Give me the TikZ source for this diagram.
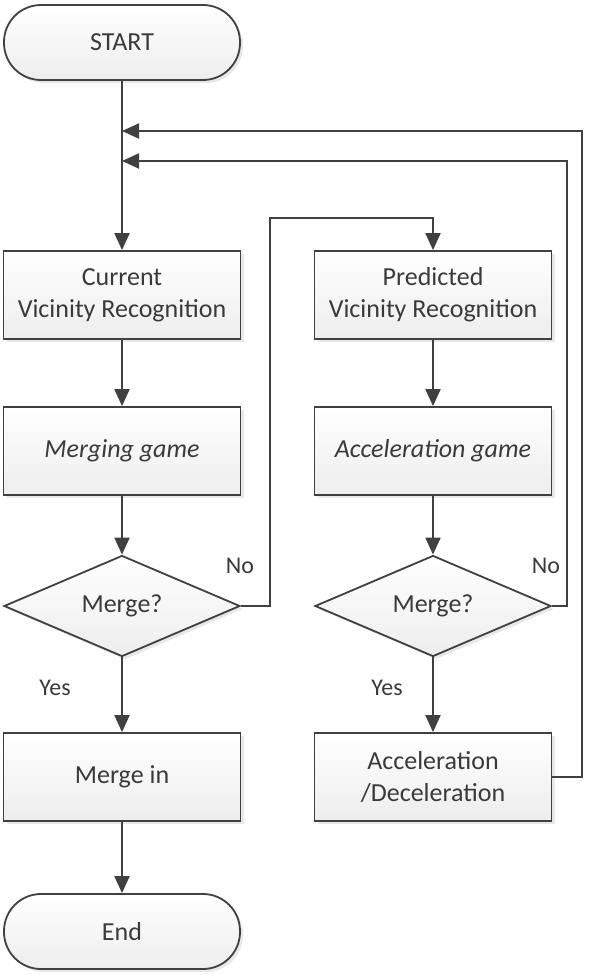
\documentclass[tikz,border=0pt]{standalone}
\usepackage{fontspec}
\setmainfont{Carlito}
\usetikzlibrary{arrows.meta,shapes.geometric,shadows}
\definecolor{lineclr}{HTML}{404040}
\definecolor{txtclr}{HTML}{3A3A3A}
\begin{document}
\begin{tikzpicture}[x=1pt,y=-1pt,
  font=\fontsize{26}{32}\selectfont, text=txtclr,
  line/.style={draw=lineclr,line width=2pt},
  arr/.style={line,-{Triangle[width=15pt,length=17pt]}},
  base/.style={draw=lineclr,line width=1.8pt,top color=white,bottom color=black!7,
    drop shadow={shadow xshift=3pt,shadow yshift=-3pt,opacity=0.18},
    align=center,inner sep=0pt},
  proc/.style={base,rectangle,minimum width=237pt,minimum height=88pt},
  term/.style={base,rectangle,rounded corners=37pt,minimum width=236pt,minimum height=75pt},
  decide/.style={base,diamond,aspect=2.36,minimum width=236pt,minimum height=101pt},
  lbl/.style={font=\fontsize{24}{28}\selectfont,inner sep=0pt}]
\useasboundingbox (0,0) rectangle (612,975);

% left column
\node[term]   (start) at (122,42.5) {START};
\node[proc]   (cur)   at (122,295)  {Current\\Vicinity Recognition};
\node[proc]   (mg)    at (122,451)  {\itshape Merging game};
\node[decide] (d1)    at (122,606)  {Merge?};
\node[proc]   (mi)    at (122,777)  {Merge in};
\node[term]   (end)   at (122,931.5){End};

% right column
\node[proc]   (pred)  at (433,295)  {Predicted\\Vicinity Recognition};
\node[proc]   (ag)    at (433,451)  {\itshape Acceleration game};
\node[decide] (d2)    at (433,606)  {Merge?};
\node[proc]   (acc)   at (433,777)  {Acceleration\\/Deceleration};

% loop junctions and bends
\coordinate (j1) at (122,131);
\coordinate (j2) at (122,161);
\coordinate (o1) at (582,131);
\coordinate (o2) at (567,161);
\coordinate (n1) at (270,218);

% main flow
\draw[arr] (start) -- (cur);
\draw[arr] (cur) -- (mg);
\draw[arr] (mg) -- (d1);
\draw[arr] (d1) -- (mi);
\draw[arr] (mi) -- (end);
\draw[arr] (pred) -- (ag);
\draw[arr] (ag) -- (d2);
\draw[arr] (d2) -- (acc);

% branches and loops
\draw[arr] (d1.east) -| (n1) -| (pred.north);
\draw[arr] (d2.east) -| (o2) -- (j2);
\draw[arr] (acc.east) -| (o1) -- (j1);

% branch labels
\node[lbl] (no1)  at (240,566) {No};
\node[lbl] (no2)  at (546,566) {No};
\node[lbl] (yes1) at (55,688)  {Yes};
\node[lbl] (yes2) at (387,688) {Yes};
\end{tikzpicture}
\end{document}
